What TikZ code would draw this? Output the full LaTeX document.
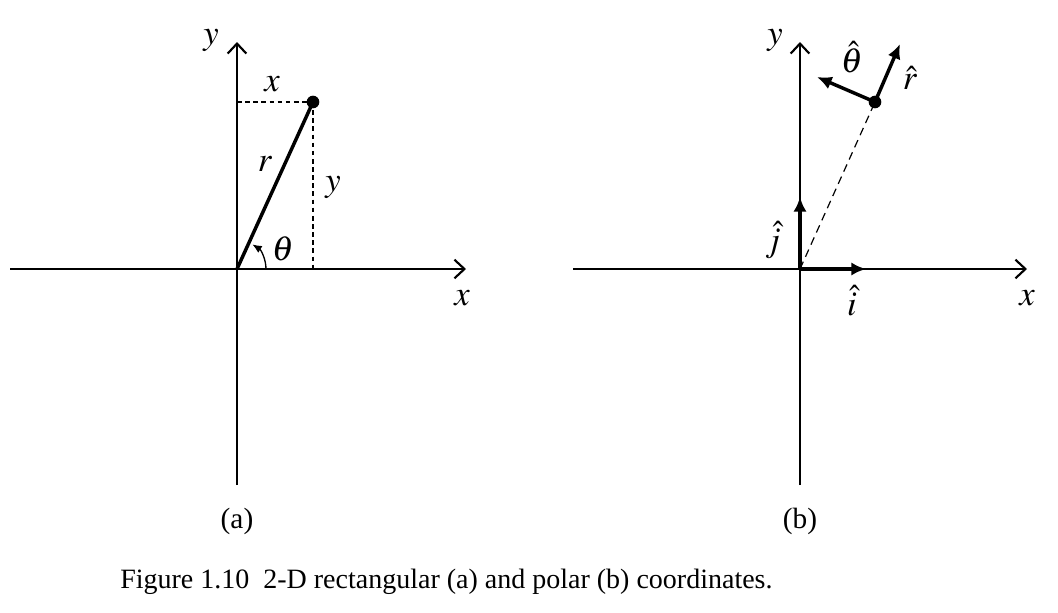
\documentclass[tikz,border=0pt]{standalone}
\usepackage{mathptmx}
\usepackage{fontspec}
\setmainfont{Liberation Serif}
\usepackage{tikz}
\usetikzlibrary{arrows.meta,positioning,calc}

\begin{document}
\begin{tikzpicture}[
    x=0.75pt, y=-0.75pt,
    axis/.style={line width=1.1pt, -{Straight Barb[length=7.5pt,width=14pt,line width=1.6pt]}},
    radius line/.style={line width=2.6pt},
    guide/.style={line width=0.9pt, dash pattern=on 3.5pt off 2.6pt},
    long guide/.style={line width=0.9pt, dash pattern=on 6pt off 4pt},
    vec/.style={line width=2.6pt, -{Latex[length=11pt,width=10pt]}},
    angle arrow/.style={line width=1pt, -{Latex[length=7pt,width=6pt]}},
    dot/.style={circle, fill=black, inner sep=0pt, minimum size=9.5pt},
    lbl/.style={font=\fontsize{26}{30}\selectfont, inner sep=0pt},
    panel/.style={font=\fontsize{22}{26}\selectfont, inner sep=0pt},
    caption/.style={font=\fontsize{21}{25}\selectfont, inner sep=0pt, anchor=base west}
]
\useasboundingbox (0,0) rectangle (1058,612);

% (a) rectangular coordinates
\coordinate (Oa) at (237,269);
\coordinate (xa left) at (10,269);
\coordinate (xa right) at (466,269);
\coordinate (ya bottom) at (237,485);
\coordinate (ya top) at (237,42);
\coordinate (ya foot) at (237,102);
\coordinate (xa foot) at (313,269);
\node[dot] (Pa) at (313,102) {};

\draw[axis] (xa left) -- (xa right);
\draw[axis] (ya bottom) -- (ya top);
\draw[guide] (ya foot) -- (Pa.center);
\draw[guide] (Pa.center) -- (xa foot);
\draw[radius line] (Oa) -- (Pa.center);
\draw[angle arrow] ($(Oa)+(29,0)$) arc[start angle=0, end angle=-58, radius=29];

\node[lbl] (ya lbl) at (211,40) {$y$};
\node[lbl] (xa lbl) at (462,298) {$x$};
\node[lbl] (x lbl) at (272,84) {$x$};
\node[lbl] (y lbl) at (333,187) {$y$};
\node[lbl] (r lbl) at (265,164) {$r$};
\node[lbl] (th lbl) at (283,249) {$\theta$};
\node[panel] (a lbl) at (237,521) {(a)};

% (b) polar coordinates
\coordinate (Ob) at (800,269);
\coordinate (xb left) at (573,269);
\coordinate (xb right) at (1027,269);
\coordinate (yb bottom) at (800,485);
\coordinate (yb top) at (800,42);
\coordinate (i tip) at (866,269);
\coordinate (j tip) at (800,197);
\coordinate (r tip) at (900,44);
\coordinate (t tip) at (817,77);
\node[dot] (Pb) at (875,102) {};

\draw[axis] (xb left) -- (xb right);
\draw[axis] (yb bottom) -- (yb top);
\draw[long guide] (Ob) -- (Pb.center);
\draw[vec] (Ob) -- (i tip);
\draw[vec] (Ob) -- (j tip);
\draw[vec] (Pb.center) -- (r tip);
\draw[vec] (Pb.center) -- (t tip);

\node[lbl] (yb lbl) at (775,40) {$y$};
\node[lbl] (xb lbl) at (1027,298) {$x$};
\node[lbl] (i lbl) at (852,301) {$\hat{i}$};
\node[lbl] (j lbl) at (773,240) {$\hat{j}$};
\node[lbl] (rh lbl) at (910,78) {$\hat{r}$};
\node[lbl] (t lbl) at (852,57) {$\hat{\theta}$};
\node[panel] (b lbl) at (800,521) {(b)};

\node[caption] (cap) at (120,588) {Figure 1.10\ \ 2-D rectangular (a) and polar (b) coordinates.};
\end{tikzpicture}
\end{document}
